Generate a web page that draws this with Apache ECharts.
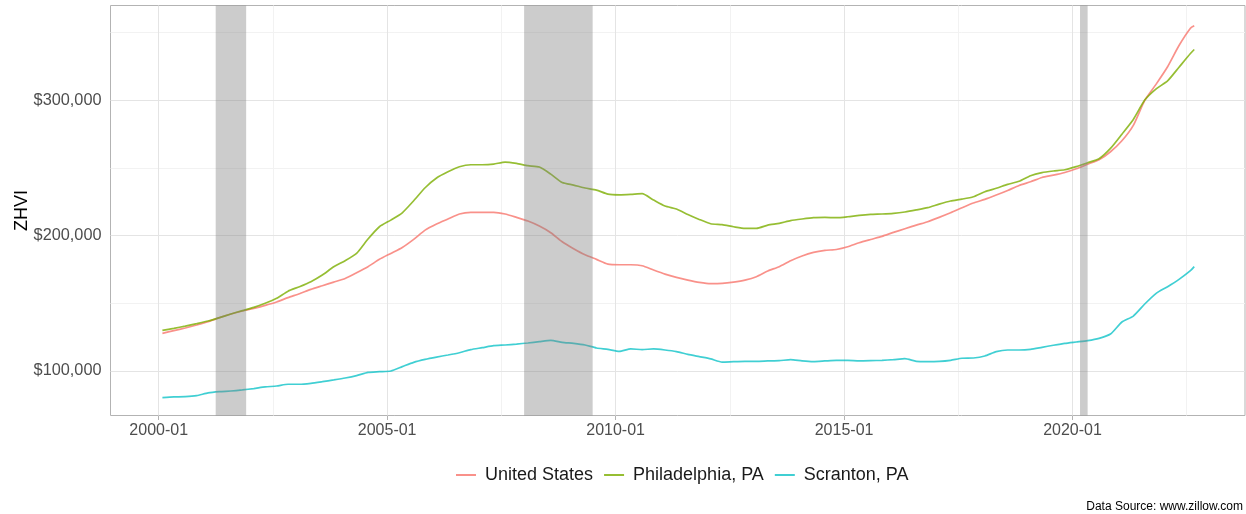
<!DOCTYPE html>
<html>
<head>
<meta charset="utf-8">
<script src="https://cdn.jsdelivr.net/npm/echarts@6/dist/echarts.min.js"></script>
<style>
  html, body { margin: 0; padding: 0; background: #ffffff; }
  #chart { width: 1246px; height: 514px; }
</style>
</head>
<body>
<div id="chart"></div>
<script>
// ---- Data (quarterly readings, month-end ZHVI) ----
const dates = [
  "2000-01","2000-04","2000-07","2000-10","2001-01","2001-04","2001-07","2001-10",
  "2002-01","2002-04","2002-07","2002-10","2003-01","2003-04","2003-07","2003-10",
  "2004-01","2004-04","2004-07","2004-10","2005-01","2005-04","2005-07","2005-10",
  "2006-01","2006-04","2006-07","2006-10","2007-01","2007-04","2007-07","2007-10",
  "2008-01","2008-04","2008-07","2008-10","2009-01","2009-04","2009-07","2009-10",
  "2010-01","2010-04","2010-07","2010-10","2011-01","2011-04","2011-07","2011-10",
  "2012-01","2012-04","2012-07","2012-10","2013-01","2013-04","2013-07","2013-10",
  "2014-01","2014-04","2014-07","2014-10","2015-01","2015-04","2015-07","2015-10",
  "2016-01","2016-04","2016-07","2016-10","2017-01","2017-04","2017-07","2017-10",
  "2018-01","2018-04","2018-07","2018-10","2019-01","2019-04","2019-07","2019-10",
  "2020-01","2020-04","2020-07","2020-10","2021-01","2021-04","2021-07","2021-10",
  "2022-01","2022-04","2022-07","2022-08"
];

const unitedStates = [
  127800,129800,131800,134000,136400,139400,142100,144300,
  146300,148500,151000,154200,157100,160300,163000,165700,
  168400,172600,177100,182500,186900,191300,197300,204100,
  208600,212300,216000,217200,217200,217200,216000,213500,
  210800,207100,202200,195500,190400,185900,182500,179000,
  178500,178500,177800,174600,171600,169200,167200,165500,
  164500,164700,165700,167200,169700,173900,177100,181500,
  185000,187600,189100,189800,191800,194800,197200,199500,
  202400,205100,207800,210300,213500,216900,220600,224100,
  226800,230000,233400,237100,239800,243000,244700,246700,
  249400,252800,256100,262000,270100,281500,300000,312000,
  324800,340500,353300,355100
];

const philadelphia = [
  130000,131500,133200,135000,136900,139400,142100,144600,
  147000,150000,153700,159000,162300,166000,170900,177000,
  181500,186900,197500,206600,211500,216900,225800,235400,
  242600,247200,250900,252400,252400,252900,254400,253400,
  251700,250700,245500,239300,237400,235200,233700,230700,
  230200,230500,231000,226300,221900,219700,215700,212000,
  208800,208100,206600,205400,205400,207800,209100,211100,
  212300,213300,213500,213300,214000,215000,215700,216000,
  216500,217500,219000,220700,223300,225600,227000,228800,
  232500,235000,237900,240200,244300,246600,247800,248700,
  251000,253900,256900,264500,275000,285900,300200,308500,
  314400,324500,334600,337600
];

const scranton = [
  80300,80800,81000,81800,83800,84700,85200,86000,
  87000,88200,88900,90200,90200,90900,92100,93400,
  94800,96600,99000,99500,100000,103200,106400,108600,
  110300,111800,113500,115800,117200,118700,119200,119900,
  120700,121700,122600,121200,120400,119200,117000,116000,
  114500,116300,115800,116300,115500,114300,112300,110600,
  108900,106600,106900,107100,107100,107400,107600,108400,
  107400,106900,107400,107900,107900,107400,107600,107900,
  108400,109100,107100,106900,107100,107900,109400,109600,
  111100,114300,115500,115500,116000,117500,119000,120400,
  121400,122400,124100,127300,136200,140600,149500,157400,
  162300,167700,174100,177100
];

const seriesNames = ["United States", "Philadelphia, PA", "Scranton, PA"];
const recessionStart = ["2001-03", "2007-12", "2020-02"];
const recessionEnd   = ["2001-11", "2009-06", "2020-04"];

const xTickLabels = ["2000-01", "2005-01", "2010-01", "2015-01", "2020-01"];
const xMinorBreaks = ["2002-07", "2007-07", "2012-07", "2017-07", "2022-07"];
const yTicks = [100000, 200000, 300000];
const yMinorBreaks = [150000, 250000, 350000];

// ---- helpers ----
function monthIndex(s) {
  const p = s.split("-");
  return (parseInt(p[0], 10) - 2000) * 12 + (parseInt(p[1], 10) - 1);
}
function monthEnd(s) { return monthIndex(s) + 0.97; }
function pairs(vals) { return dates.map((d, i) => [monthEnd(d), vals[i]]); }

const colors = ["rgba(248,118,109,0.8)", "rgba(124,174,0,0.8)", "rgba(0,191,196,0.75)"];
const FONT = "'Liberation Sans', Arial, Helvetica, sans-serif";

const chart = echarts.init(document.getElementById("chart"), null, { renderer: "canvas" });

const minorStyle = { color: "#f2f2f2", width: 1, type: "solid" };
const majorStyle = { color: "#e4e4e4", width: 1, type: "solid" };
const gridMarkLines = [];
xMinorBreaks.forEach(d => gridMarkLines.push({ xAxis: monthIndex(d), lineStyle: minorStyle }));
yMinorBreaks.forEach(v => gridMarkLines.push({ yAxis: v, lineStyle: minorStyle }));
xTickLabels.forEach(d => gridMarkLines.push({ xAxis: monthIndex(d), lineStyle: majorStyle }));
yTicks.forEach(v => gridMarkLines.push({ yAxis: v, lineStyle: majorStyle }));

const option = {
  animation: false,
  backgroundColor: "#ffffff",
  textStyle: { fontFamily: FONT },
  grid: {
    left: 110.5, top: 5.5, width: 1134.5, height: 410,
    containLabel: false, outerBoundsMode: "none",
    show: true, borderColor: "#b3b3b3", borderWidth: 1, backgroundColor: "transparent"
  },
  title: {
    text: "Data Source: www.zillow.com",
    right: 3, bottom: 1, padding: 0,
    textStyle: { fontSize: 12, fontWeight: "normal", color: "#000000", fontFamily: FONT }
  },
  legend: {
    data: seriesNames,
    left: 456, top: 466, padding: 0,
    itemWidth: 20, itemHeight: 2, itemGap: 11,
    icon: "rect",
    textStyle: { fontSize: 18, color: "#1a1a1a", fontFamily: FONT, padding: [0, 0, 0, 4] }
  },
  xAxis: {
    type: "value",
    min: -12.66, max: 285.3,
    axisLine: { show: false },
    splitLine: { show: false },
    axisTick: {
      show: true, length: 4.5, customValues: xTickLabels.map(monthIndex),
      lineStyle: { color: "#b3b3b3", width: 1 }
    },
    axisLabel: {
      customValues: xTickLabels.map(monthIndex),
      margin: 7.5, fontSize: 16, color: "#4d4d4d", fontFamily: FONT,
      formatter: function (v) {
        const m = Math.round(v);
        const y = 2000 + Math.floor(m / 12);
        const mo = ((m % 12) + 12) % 12 + 1;
        return y + "-" + (mo < 10 ? "0" + mo : mo);
      }
    }
  },
  yAxis: {
    type: "value",
    min: 67100, max: 370100,
    name: "ZHVI",
    nameLocation: "middle",
    nameRotate: 90,
    nameGap: 79,
    nameMoveOverlap: false,
    nameTextStyle: { fontSize: 18, color: "#000000", fontFamily: FONT },
    axisLine: { show: false },
    splitLine: { show: false },
    axisTick: {
      show: true, length: 4.5, customValues: yTicks,
      lineStyle: { color: "#b3b3b3", width: 1 }
    },
    axisLabel: {
      customValues: yTicks,
      margin: 9, fontSize: 16.3, color: "#4d4d4d", fontFamily: FONT,
      formatter: function (v) { return "$" + Math.round(v).toLocaleString("en-US"); }
    }
  },
  series: [
    {
      name: "__grid", type: "line", data: [], z: 1, silent: true,
      markLine: {
        silent: true, z: 1, symbol: ["none", "none"], label: { show: false },
        animation: false, data: gridMarkLines
      }
    },
    {
      name: seriesNames[0], type: "line", data: pairs(unitedStates), z: 3,
      showSymbol: false, smooth: 0.2, color: colors[0],
      lineStyle: { width: 1.7, color: colors[0] }
    },
    {
      name: seriesNames[1], type: "line", data: pairs(philadelphia), z: 3,
      showSymbol: false, smooth: 0.2, color: colors[1],
      lineStyle: { width: 1.7, color: colors[1] }
    },
    {
      name: seriesNames[2], type: "line", data: pairs(scranton), z: 3,
      showSymbol: false, smooth: 0.2, color: colors[2],
      lineStyle: { width: 1.7, color: colors[2] }
    },
    {
      name: "__recession", type: "line", data: [], z: 10, silent: true,
      markArea: {
        silent: true, z: 10,
        itemStyle: { color: "rgba(127,127,127,0.4)" },
        data: recessionStart.map((s, i) => [{ xAxis: monthEnd(s) }, { xAxis: monthEnd(recessionEnd[i]) }])
      }
    }
  ]
};

chart.setOption(option);
</script>
</body>
</html>
